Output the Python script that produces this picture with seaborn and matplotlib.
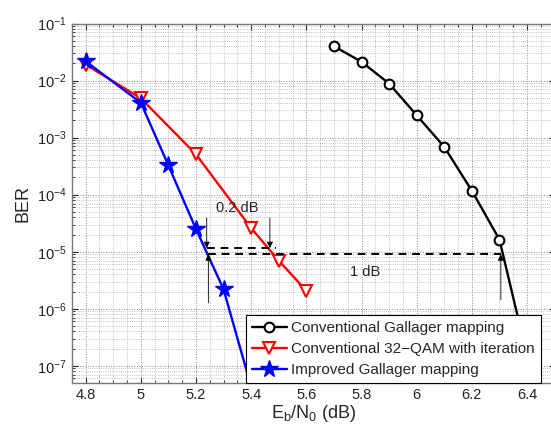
import matplotlib
matplotlib.use("Agg")
import matplotlib.pyplot as plt
import matplotlib.ticker as mticker
import numpy as np
import pandas as pd
import seaborn as sns

ebn0_gallager = [5.7, 5.8, 5.9, 6.0, 6.1, 6.2, 6.3, 6.4]
ber_gallager = [4.0e-2, 2.13e-2, 8.86e-3, 2.46e-3, 6.87e-4, 1.17e-4, 1.63e-5, 1.5e-7]

ebn0_qam = [4.8, 5.0, 5.2, 5.4, 5.5, 5.6]
ber_qam = [1.91e-2, 4.9e-3, 5.1e-4, 2.6e-5, 7.0e-6, 2.07e-6]

ebn0_improved = [4.8, 5.0, 5.1, 5.2, 5.3, 5.4]
ber_improved = [2.18e-2, 4.1e-3, 3.27e-4, 2.5e-5, 2.2e-6, 4.3e-8]

labels = ["Conventional Gallager mapping",
          "Conventional 32\u2212QAM with iteration",
          "Improved Gallager mapping"]

x_ticks = [4.8, 5.0, 5.2, 5.4, 5.6, 5.8, 6.0, 6.2, 6.4]
x_tick_labels = ["4.8", "5", "5.2", "5.4", "5.6", "5.8", "6", "6.2", "6.4"]

# gap annotation (data coords)
gap_upper_y = 1.16e-5
gap_lower_y = 9.0e-6
gap_02_x = (5.239, 5.49)
gap_1_x = (5.245, 6.305)

sns.set_style("ticks")
plt.rcParams["font.family"] = ["Liberation Sans", "DejaVu Sans"]
plt.rcParams["mathtext.fontset"] = "custom"
plt.rcParams["mathtext.rm"] = "Liberation Sans"
plt.rcParams["mathtext.it"] = "Liberation Sans:italic"

fig = plt.figure(figsize=(5.51, 4.25), dpi=100)
ax = fig.add_axes([0.1303, 0.0988, 0.8763, 0.8459])

df_g = pd.DataFrame({"x": ebn0_gallager, "y": ber_gallager})
df_q = pd.DataFrame({"x": ebn0_qam, "y": ber_qam})
df_i = pd.DataFrame({"x": ebn0_improved, "y": ber_improved})

sns.lineplot(data=df_g, x="x", y="y", ax=ax, color="black", linewidth=1.7,
             marker="o", markersize=7, markerfacecolor="white",
             markeredgecolor="black", markeredgewidth=1.5, label=labels[0])
sns.lineplot(data=df_q, x="x", y="y", ax=ax, color="red", linewidth=1.7,
             marker="v", markersize=8.5, markerfacecolor="white",
             markeredgecolor="red", markeredgewidth=1.5, label=labels[1])
sns.lineplot(data=df_i, x="x", y="y", ax=ax, color="blue", linewidth=1.7,
             marker="*", markersize=13, markerfacecolor="blue",
             markeredgecolor="blue", markeredgewidth=1, label=labels[2])

ax.set_yscale("log")
ax.set_xlim(4.75, 6.5)
ax.set_ylim(5e-8, 1e-1)

ax.set_xticks(x_ticks)
ax.set_xticklabels(x_tick_labels)
ax.xaxis.set_minor_locator(mticker.MultipleLocator(0.05))
ax.yaxis.set_major_locator(mticker.LogLocator(base=10, numticks=12))
ax.yaxis.set_minor_locator(mticker.LogLocator(base=10, subs=np.arange(2, 10), numticks=12))
ax.yaxis.set_major_formatter(mticker.LogFormatterMathtext())
ax.yaxis.set_minor_formatter(mticker.NullFormatter())

ax.tick_params(which="both", direction="in", top=True, right=True,
               labelsize=10.5, colors="#222222")
ax.tick_params(which="major", length=4)
ax.tick_params(which="minor", length=2)
ax.grid(which="major", linestyle=":", color="#888888", linewidth=0.7)
ax.grid(which="minor", linestyle=":", color="#aaaaaa", linewidth=0.6)
for s in ax.spines.values():
    s.set_color("#777777")
    s.set_linewidth(1.0)

ax.set_xlabel(r"E$_\mathrm{b}$/N$_\mathrm{0}$ (dB)", fontsize=13, labelpad=1)
ax.set_ylabel("BER", fontsize=13, labelpad=4)

# dashed gap lines
ax.plot(gap_02_x, [gap_upper_y, gap_upper_y], color="black", linestyle="--",
        linewidth=1.4, dashes=(4, 3))
ax.plot(gap_1_x, [gap_lower_y, gap_lower_y], color="black", linestyle="--",
        linewidth=1.4, dashes=(4, 3))

arrow_kw = dict(arrowstyle="-|>", color="black", lw=0.6, mutation_scale=9,
                shrinkA=0, shrinkB=0)
ax.annotate("", xy=(gap_02_x[0], gap_upper_y), xytext=(gap_02_x[0], 3.9e-5),
            arrowprops=arrow_kw)
ax.annotate("", xy=(5.468, gap_upper_y), xytext=(5.468, 3.9e-5),
            arrowprops=arrow_kw)
ax.annotate("", xy=(gap_1_x[0], gap_lower_y), xytext=(gap_1_x[0], 1.27e-6),
            arrowprops=arrow_kw)
ax.annotate("", xy=(gap_1_x[1], gap_lower_y), xytext=(gap_1_x[1], 1.44e-6),
            arrowprops=arrow_kw)

ax.text(5.273, 5.9e-5, "0.2 dB", fontsize=10.5, ha="left", va="center")
ax.text(5.812, 4.5e-6, "1 dB", fontsize=10.5, ha="center", va="center")

leg = ax.legend(loc="lower right", bbox_to_anchor=(0.972, 0.0),
                borderaxespad=0, fontsize=11, frameon=True, fancybox=False,
                framealpha=1, edgecolor="black", handlelength=2.3,
                handletextpad=0.3, labelspacing=0.45, borderpad=0.4)
leg.get_frame().set_linewidth(0.8)

fig.savefig("out.png", dpi=100)
